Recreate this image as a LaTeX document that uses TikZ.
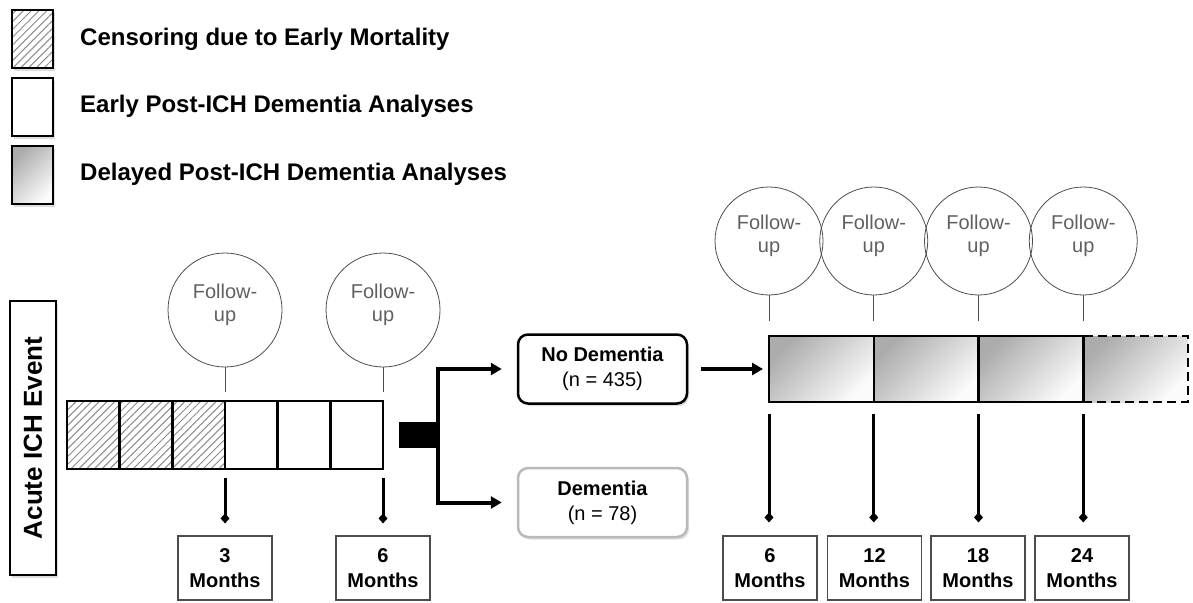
\documentclass[tikz,border=0pt]{standalone}
\usepackage{fontspec}
\setmainfont{Liberation Sans}
\usetikzlibrary{arrows.meta,patterns.meta,shadows,positioning}

\begin{document}
\begin{tikzpicture}[x=1pt,y=-1pt,
	box/.style={draw, line width=2.5pt, inner sep=0pt, outer sep=0pt},
	hatch/.style={preaction={fill=white}, pattern={Lines[angle=45,distance=5.5pt,line width=1pt]}, pattern color=gray!90},
	fade/.style={top color=gray!65, bottom color=gray!3, shading angle=45},
	softshadow/.style={drop shadow={shadow xshift=2pt, shadow yshift=-2.5pt, opacity=0.25}},
	cellA/.style={box, minimum width=52.67pt, minimum height=68pt},
	cellB/.style={box, minimum width=104.75pt, minimum height=66pt},
	legbox/.style={box, minimum width=41pt, minimum height=58pt, softshadow},
	legtext/.style={anchor=base west, inner sep=0pt, font=\bfseries\fontsize{24}{28}\selectfont},
	fup/.style={circle, draw=gray!60!black, line width=0.8pt, align=center, text=gray!75!black, font=\fontsize{20}{23}\selectfont, text depth=14pt},
	tick/.style={draw=gray!60!black, line width=0.8pt},
	down/.style={line width=3pt, -{Diamond[width=9pt,length=10pt]}},
	mbox/.style={draw=gray!60!black, line width=1.2pt, minimum width=94pt, minimum height=64pt, inner sep=0pt, align=center, font=\bfseries\fontsize{20}{25}\selectfont},
	branch/.style={line width=4pt, -{Triangle[width=12pt,length=11pt]}},
	outcome/.style={draw, rounded corners=10pt, line width=2.5pt, fill=white, minimum width=169pt, minimum height=69pt, align=center, font=\fontsize{20}{25}\selectfont, softshadow}]

	\useasboundingbox (0,0) rectangle (1193,602);

	% legend
	\node[legbox, hatch] (lgcens) at (32.5,39) {};
	\node[legbox, fill=white] (lgearly) at (32.5,107) {};
	\node[legbox, fade] (lgdelay) at (32.5,175) {};
	\node[legtext] (txcens) at (80,46) {Censoring due to Early Mortality};
	\node[legtext] (txearly) at (80,112) {Early Post-ICH Dementia Analyses};
	\node[legtext] (txdelay) at (80,180) {Delayed Post-ICH Dementia Analyses};

	\node[box, line width=1.5pt, fill=white, rotate=90, minimum width=274pt, minimum height=46pt, font=\bfseries\fontsize{26}{30}\selectfont, softshadow] (event) at (33,438) {Acute ICH Event};

	% early follow-up
	\node[cellA, hatch] (c1) at (93.34,435) {};
	\node[cellA, hatch, right=0pt of c1] (c2) {};
	\node[cellA, hatch, right=0pt of c2] (c3) {};
	\node[cellA, right=0pt of c3] (c4) {};
	\node[cellA, right=0pt of c4] (c5) {};
	\node[cellA, right=0pt of c5] (c6) {};

	\node[fup, minimum size=114pt] (fu3) at (c3.north east |- 0,310) {Follow-\\up};
	\node[fup, minimum size=114pt] (fu6) at (c6.north east |- 0,310) {Follow-\\up};
	\draw[tick, shorten >=9pt] (fu3) -- (c3.north east);
	\draw[tick, shorten >=9pt] (fu6) -- (c6.north east);

	\node[mbox] (m3) at (c3.south east |- 0,568) {3\\Months};
	\node[mbox] (m6) at (c6.south east |- 0,568) {6\\Months};
	\draw[down, shorten <=9pt, shorten >=12pt] (c3.south east) -- (m3.north);
	\draw[down, shorten <=9pt, shorten >=12pt] (c6.south east) -- (m6.north);

	% split
	\node[box, fill=black, minimum width=38pt, minimum height=23pt, right=17pt of c6] (split) {};
	\node[outcome] (nodem) at (602.5,369) {\textbf{No Dementia}\\(n = 435)};
	\node[outcome, draw=gray!55] (dem) at (602.5,502.5) {\textbf{Dementia}\\(n = 78)};
	\draw[branch, shorten >=15pt] (split.east) |- (nodem.west);
	\draw[branch, shorten >=15pt] (split.east) |- (dem.west);

	% delayed follow-up
	\node[cellB, fade] (r1) at (821.38,369) {};
	\node[cellB, fade, right=0pt of r1] (r2) {};
	\node[cellB, fade, right=0pt of r2] (r3) {};
	\node[cellB, fade, dash pattern=on 9pt off 5pt, right=0pt of r3] (r4) {};
	\draw[line width=2.5pt] (r3.north east) -- (r3.south east);
	\draw[branch, shorten <=13pt, shorten >=6pt] (nodem.east) -- (r1.west);

	\node[fup, minimum size=108pt] (g6) at (r1.north west |- 0,241) {Follow-\\up};
	\node[fup, minimum size=108pt] (g12) at (r2.north west |- 0,241) {Follow-\\up};
	\node[fup, minimum size=108pt] (g18) at (r3.north west |- 0,241) {Follow-\\up};
	\node[fup, minimum size=108pt] (g24) at (r4.north west |- 0,241) {Follow-\\up};
	\draw[tick, shorten >=15pt] (g6) -- (r1.north west);
	\draw[tick, shorten >=15pt] (g12) -- (r2.north west);
	\draw[tick, shorten >=15pt] (g18) -- (r3.north west);
	\draw[tick, shorten >=15pt] (g24) -- (r4.north west);

	\node[mbox] (n6) at (770,568) {6\\Months};
	\node[mbox] (n12) at (874.5,568) {12\\Months};
	\node[mbox] (n18) at (978,568) {18\\Months};
	\node[mbox] (n24) at (1082,568) {24\\Months};
	\draw[down, shorten <=12pt, shorten >=13pt] (r1.south west) -- (r1.south west |- n6.north);
	\draw[down, shorten <=12pt, shorten >=13pt] (r2.south west) -- (r2.south west |- n12.north);
	\draw[down, shorten <=12pt, shorten >=13pt] (r3.south west) -- (r3.south west |- n18.north);
	\draw[down, shorten <=12pt, shorten >=13pt] (r4.south west) -- (r4.south west |- n24.north);

\end{tikzpicture}
\end{document}
